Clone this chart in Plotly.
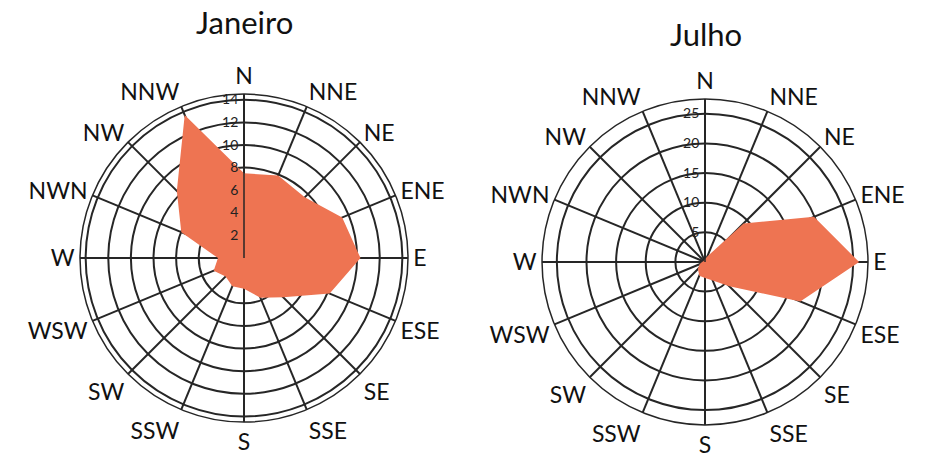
import plotly.graph_objects as go

directions = ["N", "NNE", "NE", "ENE", "E", "ESE", "SE", "SSE",
              "S", "SSW", "SW", "WSW", "W", "NWN", "NW", "NNW"]

# frequencias (%) por direcao
janeiro = [7.5, 7.9, 7.6, 9.4, 10.3, 8.2, 4.9, 3.8,
           2.7, 2.7, 2.3, 2.9, 2.3, 6.0, 8.4, 13.7]
julho = [0.5, 1.0, 9.2, 19.9, 26.0, 17.4, 5.8, 3.4,
         2.7, 2.5, 1.7, 1.0, 0.5, 0.3, 0.3, 0.3]

jan_ticks = [2, 4, 6, 8, 10, 12, 14]
jul_ticks = [5, 10, 15, 20, 25]

FILL = "#EE7452"
GRID = "#262626"
FONT = "Lato, Open Sans, sans-serif"

fig = go.Figure()

for vals, sub in [(janeiro, "polar"), (julho, "polar2")]:
    fig.add_trace(go.Scatterpolar(
        r=vals + vals[:1], theta=directions + directions[:1],
        mode="lines", fill="toself", fillcolor=FILL,
        line=dict(width=0, color=FILL), subplot=sub, showlegend=False,
        hoverinfo="r+theta"
    ))


def polar_layout(domain_x, domain_y, rmax, ticks):
    return dict(
        domain=dict(x=domain_x, y=domain_y),
        bgcolor="white",
        radialaxis=dict(
            range=[0, rmax], tickvals=ticks, ticktext=[str(t) for t in ticks],
            angle=90, side="counterclockwise", tickangle=90,
            showline=True, linecolor=GRID, linewidth=1.5,
            gridcolor=GRID, gridwidth=1.5, ticks="",
            tickfont=dict(family=FONT, size=14, color="#222"),
            layer="above traces"
        ),
        angularaxis=dict(
            rotation=90, direction="clockwise", type="category",
            categoryarray=directions,
            showline=True, linecolor=GRID, linewidth=1.5,
            gridcolor=GRID, gridwidth=1.5, ticks="",
            tickfont=dict(family=FONT, size=23, color="#111"),
            layer="above traces"
        ),
    )


fig.update_layout(
    width=926, height=468,
    margin=dict(l=0, r=0, t=0, b=0, autoexpand=False),
    paper_bgcolor="white",
    polar=polar_layout([0.0864, 0.4406], [0.098, 0.799], 14.5, jan_ticks),
    polar2=polar_layout([0.5853, 0.9374], [0.092, 0.7885], 27.5, jul_ticks),
    annotations=[
        dict(text="Janeiro", x=0.2635, y=0.953, xref="paper", yref="paper",
             xanchor="center", yanchor="middle", showarrow=False,
             font=dict(family=FONT, size=31, color="#111")),
        dict(text="Julho", x=0.762, y=0.927, xref="paper", yref="paper",
             xanchor="center", yanchor="middle", showarrow=False,
             font=dict(family=FONT, size=31, color="#111")),
    ],
)

# pagina sem margem no body para o grafico ocupar a janela toda
fig.write_html("out.html", config={"displayModeBar": False},
               post_script="document.body.style.margin='0';")
